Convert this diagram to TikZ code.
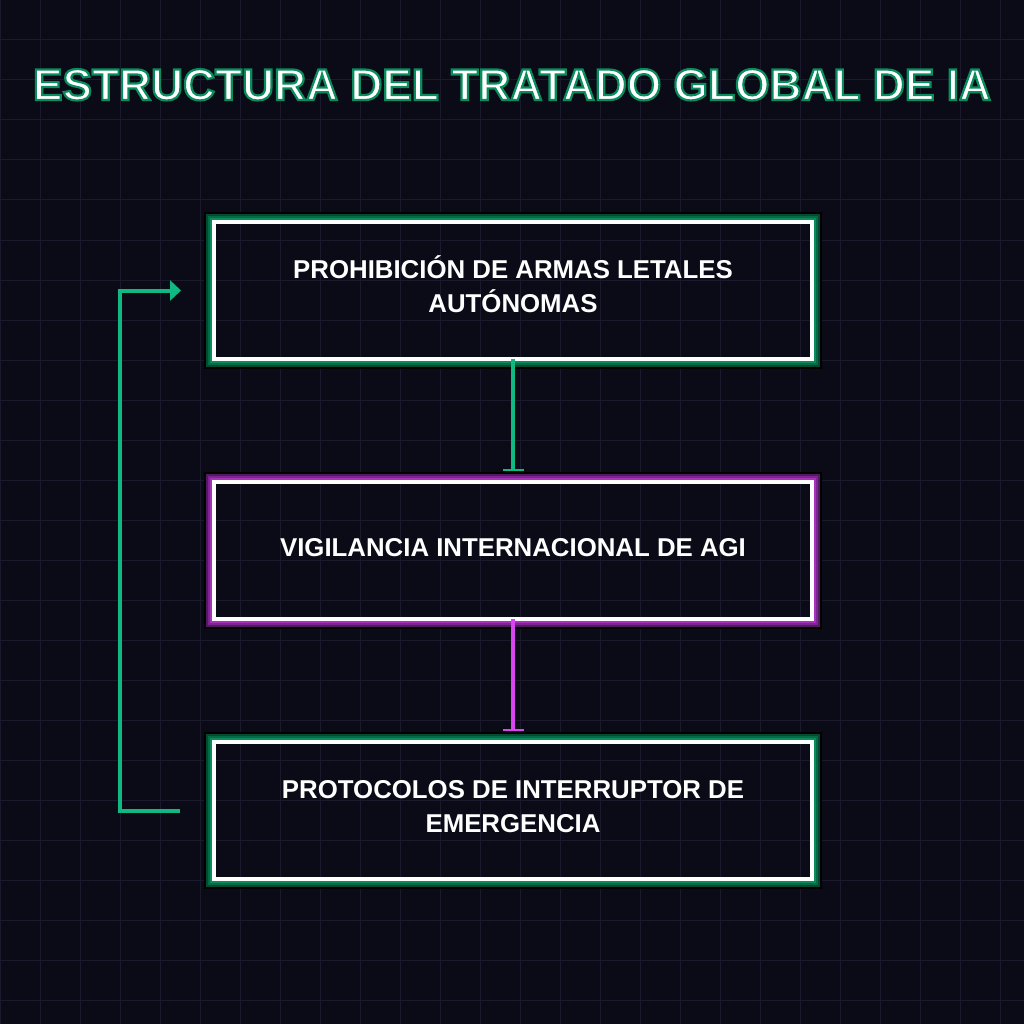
\documentclass[tikz,border=0pt]{standalone}
\usepackage{fontspec}
\setmainfont{Liberation Sans}
\usetikzlibrary{arrows.meta,calc}
\definecolor{bgc}{HTML}{0B0B18}
\definecolor{gridc}{HTML}{1A1A2C}
\definecolor{emer}{HTML}{10B981}
\definecolor{fuch}{HTML}{D946EF}
\definecolor{gA}{HTML}{0B8C5D}
\definecolor{gB}{HTML}{076A47}
\definecolor{gC}{HTML}{044A32}
\definecolor{mA}{HTML}{A832BC}
\definecolor{mB}{HTML}{7C2690}
\definecolor{mC}{HTML}{531A63}
\pgfdeclarelayer{gridlayer}
\pgfdeclarelayer{glowlayer}
\pgfsetlayers{gridlayer,glowlayer,main}
\newcommand\glowrect[4]{%
  \begin{pgfonlayer}{glowlayer}
  \draw[#2,line width=2pt] ($(#1.north west)+(-3,-3)$) rectangle ($(#1.south east)+(3,3)$);
  \draw[#3,line width=2pt] ($(#1.north west)+(-5,-5)$) rectangle ($(#1.south east)+(5,5)$);
  \draw[#4,line width=2pt] ($(#1.north west)+(-7,-7)$) rectangle ($(#1.south east)+(7,7)$);
  \draw[black,line width=2pt] ($(#1.north west)+(-9,-9)$) rectangle ($(#1.south east)+(9,9)$);
  \end{pgfonlayer}}
\newcommand\twolines[2]{\begin{tabular}[t]{@{}c@{}}#1\\#2\end{tabular}}
\tikzset{
  box/.style={draw=white, line width=4pt, minimum width=598pt, minimum height=137pt,
    outer sep=0pt, inner sep=0pt, text=white,
    font=\bfseries\fontsize{25.8}{34}\selectfont},
  twobox/.style={box, text height=0pt, text depth=24pt},
  onebox/.style={box, text height=13pt, text depth=0pt},
  conn/.style={line width=4pt, #1},
  bartip/.style={-{Bar[width=21pt,line width=2pt]}},
}
\begin{document}
\begin{tikzpicture}[x=1pt,y=-1pt]
\begin{pgfonlayer}{gridlayer}
\fill[bgc] (0,0) rectangle (1024,1024);
\useasboundingbox (0,0) rectangle (1024,1024);
\foreach \k in {0,40,...,1000}{
  \draw[gridc,line width=1pt] (\k,0) -- (\k,1024);
  \draw[gridc,line width=1pt] (0,\k) -- (1024,\k);
}
\end{pgfonlayer}

\node[anchor=base, text=white, font=\bfseries\fontsize{44.3}{50}\selectfont] (title) at (512,100)
  {\special{pdf:literal direct 2 Tr 2.2 w 0.04 0.55 0.36 RG}ESTRUCTURA DEL TRATADO GLOBAL DE IA\special{pdf:literal direct 0 Tr}};

\node[twobox] (b1) at (513,290.5) {\twolines{PROHIBICIÓN DE ARMAS LETALES}{AUTÓNOMAS}};
\node[onebox] (b2) at (513,550) {VIGILANCIA INTERNACIONAL DE AGI};
\node[twobox] (b3) at (513,810.5) {\twolines{PROTOCOLOS DE INTERRUPTOR DE}{EMERGENCIA}};

\glowrect{b1}{gA}{gB}{gC}
\glowrect{b2}{mA}{mB}{mC}
\glowrect{b3}{gA}{gB}{gC}

\draw[conn=emer, bartip] (b1.south) -- ($(b2.north)+(0,-11)$);
\draw[conn=fuch, bartip] (b2.south) -- ($(b3.north)+(0,-11)$);
\coordinate (loopstart) at ($(b3.west)+(-34,0)$);
\coordinate (loopend) at ($(b1.west)+(-33,0)$);
\draw[conn=emer, -{Triangle[length=11pt,width=20pt]}] (loopstart) -- ++(-60,0) |- (loopend);
\end{tikzpicture}
\end{document}
